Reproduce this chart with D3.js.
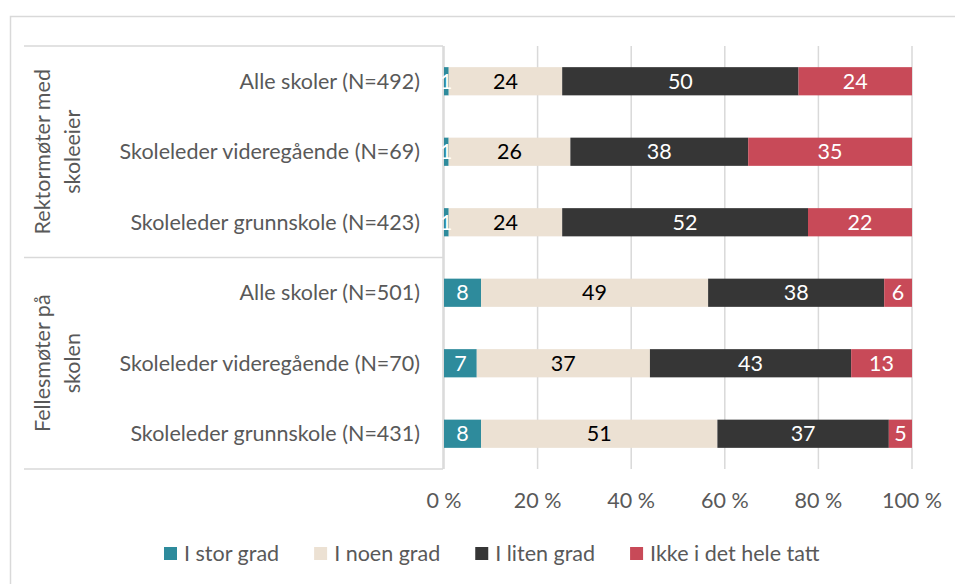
<!DOCTYPE html>
<html>
<head>
<meta charset="utf-8">
<script src="https://cdn.jsdelivr.net/npm/d3@7"></script>
<style>
  body { margin: 0; background: #fff; }
  svg { font-family: Lato, "Liberation Sans", sans-serif; }
</style>
</head>
<body>
<div id="chart"></div>
<script>
const groups = ['Rektormøter med skoleeier', 'Fellesmøter på skolen'];
const groupLines = [['Rektormøter med', 'skoleeier'], ['Fellesmøter på', 'skolen']];
const categories = [
  'Alle skoler (N=492)',
  'Skoleleder videregående (N=69)',
  'Skoleleder grunnskole (N=423)',
  'Alle skoler (N=501)',
  'Skoleleder videregående (N=70)',
  'Skoleleder grunnskole (N=431)'
];
const series = ['I stor grad', 'I noen grad', 'I liten grad', 'Ikke i det hele tatt'];
const storGrad = [1, 1, 1, 8, 7, 8];
const noenGrad = [24, 26, 24, 49, 37, 51];
const litenGrad = [50, 38, 52, 38, 43, 37];
const ikkeTatt = [24, 35, 22, 6, 13, 5];
const ticks = [0, 0.2, 0.4, 0.6, 0.8, 1];

const colors = ['#2e8b9c', '#ece1d3', '#363636', '#c84a58'];
const labelColors = ['#fff', '#000', '#fff', '#fff'];

const width = 955, height = 584;
const plot = { left: 444, right: 912, top: 46, bottom: 469 };
const tableLeft = 24;
const grid = '#d9d9d9';
const textGray = '#595959';
const fs = 21.5;

const rows = categories.map((c, i) => ({
  idx: i, cat: c,
  [series[0]]: storGrad[i], [series[1]]: noenGrad[i],
  [series[2]]: litenGrad[i], [series[3]]: ikkeTatt[i]
}));

const stacked = d3.stack().keys(series).offset(d3.stackOffsetExpand)(rows);

const svg = d3.select('#chart').append('svg')
  .attr('width', width).attr('height', height);

// chart frame
svg.append('rect')
  .attr('x', 10.5).attr('y', 16.5)
  .attr('width', 980).attr('height', 620)
  .attr('fill', 'none').attr('stroke', grid).attr('stroke-width', 1.5);

const x = d3.scaleLinear().domain([0, 1]).range([plot.left, plot.right]);
const y = d3.scaleBand().domain(d3.range(categories.length))
  .range([plot.top, plot.bottom]).paddingInner(0.6).paddingOuter(0.3);

// gridlines
svg.append('g').selectAll('line')
  .data(ticks)
  .join('line')
  .attr('x1', d => x(d)).attr('x2', d => x(d))
  .attr('y1', plot.top).attr('y2', plot.bottom)
  .attr('stroke', grid).attr('stroke-width', 1.5);

// category table lines
const table = svg.append('g').attr('stroke', grid).attr('stroke-width', 1.5);
const groupBounds = [plot.top, (plot.top + plot.bottom) / 2, plot.bottom];
groupBounds.forEach(b => {
  table.append('line')
    .attr('x1', tableLeft).attr('x2', plot.left - 1)
    .attr('y1', b).attr('y2', b);
});
table.append('line')
  .attr('x1', plot.left - 1).attr('x2', plot.left - 1)
  .attr('y1', plot.top).attr('y2', plot.bottom);

// bars
const layer = svg.append('g').selectAll('g')
  .data(stacked)
  .join('g')
  .attr('fill', (d, i) => colors[i]);

layer.selectAll('rect')
  .data(d => d)
  .join('rect')
  .attr('x', d => x(d[0]))
  .attr('y', d => y(d.data.idx))
  .attr('width', d => x(d[1]) - x(d[0]))
  .attr('height', y.bandwidth());

// value labels
svg.append('g').selectAll('g')
  .data(stacked)
  .join('g')
  .attr('fill', (d, i) => labelColors[i])
  .selectAll('text')
  .data(d => d.map(v => ({ v, key: d.key })))
  .join('text')
  .attr('x', d => x((d.v[0] + d.v[1]) / 2))
  .attr('y', d => y(d.v.data.idx) + y.bandwidth() / 2)
  .attr('dy', '0.36em')
  .attr('text-anchor', 'middle')
  .attr('font-size', fs)
  .text(d => d.v.data[d.key]);

// category labels
svg.append('g').selectAll('text')
  .data(categories)
  .join('text')
  .attr('x', 420)
  .attr('y', (d, i) => y(i) + y.bandwidth() / 2)
  .attr('dy', '0.36em')
  .attr('text-anchor', 'end')
  .attr('font-size', fs)
  .attr('fill', textGray)
  .text(d => d);

// group labels
groups.forEach((g, gi) => {
  const cy = (groupBounds[gi] + groupBounds[gi + 1]) / 2;
  const t = svg.append('text')
    .attr('transform', `translate(0,${cy}) rotate(-90)`)
    .attr('text-anchor', 'middle')
    .attr('font-size', fs)
    .attr('fill', textGray);
  groupLines[gi].forEach((line, li) => {
    t.append('tspan').attr('x', 0).attr('y', 50 + li * 30).text(line);
  });
});

// x axis labels
svg.append('g').selectAll('text')
  .data(ticks)
  .join('text')
  .attr('x', d => x(d))
  .attr('y', 508)
  .attr('text-anchor', 'middle')
  .attr('font-size', fs)
  .attr('fill', textGray)
  .text(d => d3.format('d')(d * 100) + ' %');

// legend
const legend = svg.append('g');
const items = legend.selectAll('g')
  .data(series)
  .join('g');
items.append('rect')
  .attr('width', 13).attr('height', 13)
  .attr('y', 547)
  .attr('fill', (d, i) => colors[i]);
items.append('text')
  .attr('x', 20).attr('y', 561)
  .attr('font-size', fs)
  .attr('fill', textGray)
  .text(d => d);
let lx = 164;
items.each(function () {
  d3.select(this).attr('transform', `translate(${lx},0)`);
  lx += 20 + d3.select(this).select('text').node().getComputedTextLength() + 35;
});
</script>
</body>
</html>
